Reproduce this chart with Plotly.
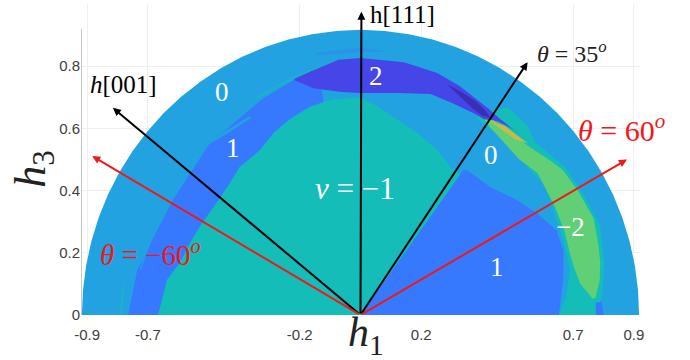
# plot.py - spin/chirality map on the half disk
import numpy as np
import plotly.graph_objects as go

SKY = "#22A2E0"
SKY2 = "#2A92EA"
BLUE = "#3679FF"
DARK = "#4646E8"
DEEP = "#3A2FB4"
TEAL = "#14BDB8"
TEAL2 = "#1CAFCE"
GREEN = "#60CF75"
GOLD = "#C4BC4A"
RED = "#F01818"

x_ticks = [-0.9, -0.7, -0.2, 0.2, 0.7, 0.9]
y_ticks = [0, 0.2, 0.4, 0.6, 0.8]

# region boundaries: angle from +h1 in degrees, radius in (h1, h3)
disc_angle = list(range(0, 181, 5))
disc_r = [0.917] * len(disc_angle)

left_angle = [180, 169, 158, 149, 132, 115, 106, 100]
left_r = [0.765, 0.749, 0.723, 0.72, 0.742, 0.766, 0.788, 0.80]

right_angle = [0, 10, 17.4, 23, 29.5, 35.7, 44, 53, 54]
right_r = [0.653, 0.678, 0.70, 0.70, 0.666, 0.634, 0.593, 0.583, 0.575]

halo_angle = [59, 54, 48, 44, 35, 28, 20, 12, 5, 0]
halo_out = [0.76, 0.825, 0.82, 0.80, 0.825, 0.83, 0.84, 0.82, 0.80, 0.775]
halo_in = [0.74, 0.735, 0.73, 0.725, 0.735, 0.72, 0.71, 0.705, 0.68, 0.653]

teal_angle = [180, 175, 170, 164, 158, 151, 141, 135, 130, 122, 116, 110, 104, 98, 90, 85, 80, 72, 65, 58, 54]
teal_r = [0.666, 0.655, 0.647, 0.617, 0.608, 0.60, 0.596, 0.605, 0.62, 0.625, 0.652, 0.672, 0.69, 0.70, 0.70,
          0.672, 0.645, 0.614, 0.59, 0.56, 0.56]

dark_angle = [106, 102, 95, 90, 80, 72, 66, 60, 57, 54, 50, 46]
dark_out = [0.79, 0.80, 0.824, 0.826, 0.825, 0.818, 0.805, 0.79, 0.785, 0.78, 0.78, 0.785]
dark_in = [0.785, 0.745, 0.72, 0.714, 0.725, 0.747, 0.745, 0.748, 0.75, 0.77, 0.78, 0.785]

deep_angle = [69, 65, 61, 58, 56]
deep_out = [0.795, 0.79, 0.785, 0.775, 0.765]
deep_in = [0.795, 0.775, 0.76, 0.755, 0.765]

green_angle = [57, 55, 44, 38, 35, 29, 22, 16, 12, 8, 4]
green_out = [0.75, 0.764, 0.776, 0.80, 0.813, 0.82, 0.828, 0.815, 0.807, 0.795, 0.775]
green_in = [0.75, 0.74, 0.723, 0.74, 0.735, 0.729, 0.724, 0.717, 0.72, 0.73, 0.765]

gold_angle = [56, 52, 48, 45]
gold_out = [0.755, 0.772, 0.775, 0.78]
gold_in = [0.755, 0.755, 0.76, 0.78]

# thin streaks along the band edges
streak_top_angle = [116, 107, 99.5]
streak_top_out = [0.782, 0.798, 0.812]
streak_top_in = [0.774, 0.786, 0.804]

streak_mid_angle = [133.8, 127, 119.7]
streak_mid_out = [0.750, 0.740, 0.737]
streak_mid_in = [0.746, 0.730, 0.729]

streak_low_angle = [168.7, 160.8, 155.5]
streak_low_out = [0.741, 0.737, 0.737]
streak_low_in = [0.737, 0.729, 0.733]

streak_edge_angle = [180, 175.3, 172.4]
streak_edge_out = [0.795, 0.791, 0.784]
streak_edge_in = [0.785, 0.783, 0.780]

streak_rim_angle = [100, 90, 85]
streak_rim_out = [0.856, 0.858, 0.854]
streak_rim_in = [0.848, 0.846, 0.850]

tail_angle = [3, 0]
tail_out = [0.795, 0.80]
tail_in = [0.775, 0.775]


def region(fig, angle, r_out, r_in, color):
    ang = np.radians(angle)
    x = np.array(r_out) * np.cos(ang)
    y = np.array(r_out) * np.sin(ang)
    if r_in is None:
        x = np.append(x, 0.0)
        y = np.append(y, 0.0)
    else:
        x = np.append(x, (np.array(r_in) * np.cos(ang))[::-1])
        y = np.append(y, (np.array(r_in) * np.sin(ang))[::-1])
    fig.add_scatter(x=x, y=y, mode="lines", fill="toself", fillcolor=color,
                    line=dict(width=0, color=color), hoverinfo="skip", showlegend=False)


fig = go.Figure()
region(fig, disc_angle, disc_r, None, SKY)
region(fig, streak_rim_angle, streak_rim_out, streak_rim_in, SKY2)
region(fig, streak_top_angle, streak_top_out, streak_top_in, TEAL2)
region(fig, streak_edge_angle, streak_edge_out, streak_edge_in, TEAL2)
region(fig, left_angle, left_r, None, BLUE)
region(fig, streak_mid_angle, streak_mid_out, streak_mid_in, SKY)
region(fig, streak_low_angle, streak_low_out, streak_low_in, SKY)
region(fig, right_angle, right_r, None, BLUE)
region(fig, halo_angle, halo_out, halo_in, TEAL)
region(fig, tail_angle, tail_out, tail_in, BLUE)
region(fig, teal_angle, teal_r, None, TEAL)
region(fig, dark_angle, dark_out, dark_in, DARK)
region(fig, deep_angle, deep_out, deep_in, DEEP)
region(fig, green_angle, green_out, green_in, GREEN)
region(fig, gold_angle, gold_out, gold_in, GOLD)

serif = "Liberation Serif"


def arrow(tip_x, tip_y, color):
    fig.add_annotation(x=tip_x, y=tip_y, ax=0, ay=0, xref="x", yref="y", axref="x", ayref="y",
                       text="", showarrow=True, arrowhead=2, arrowsize=0.8, arrowwidth=2,
                       arrowcolor=color)


def label(text, x, y, color="white", size=27, **kw):
    fig.add_annotation(x=x, y=y, text=text, showarrow=False,
                       font=dict(family=serif, size=size, color=color), **kw)


arrow(0.003, 0.975, "black")
arrow(-0.815, 0.666, "black")
arrow(0.55, 0.813, "black")
arrow(-0.883, 0.511, RED)
arrow(0.877, 0.50, RED)

label("0", -0.456, 0.717)
label("1", -0.42, 0.537)
label("2", 0.05, 0.768)
label("0", 0.43, 0.514)
label("<i>ν</i> = −1", -0.018, 0.408, size=31)
label("−2", 0.69, 0.283)
label("1", 0.45, 0.154)
label("<i>h</i>[001]", -0.78, 0.74, color="black", size=25)
label("h[111]", 0.137, 0.965, color="black", size=25)
label("<i>θ</i> = 35<sup><i>o</i></sup>", 0.696, 0.846, color="#222222", size=24)
label("<i>θ</i> = 60<sup><i>o</i></sup>", 0.86, 0.60, color=RED, size=30)
label("<i>θ</i> = −60<sup><i>o</i></sup>", -0.692, 0.20, color=RED, size=29)
label("<i>h</i><sub>1</sub>", 0.51, -0.155, color="#222222", size=42, xref="paper", yref="paper")
label("<i>h</i><sub>3</sub>", -0.137, 0.47, color="#222222", size=44, xref="paper", yref="paper", textangle=-90)

fig.add_shape(type="line", x0=-0.92, x1=-0.92, y0=0, y1=0.92, line=dict(color="#C8C8C8", width=2))

fig.update_layout(
    width=690, height=360, showlegend=False,
    margin=dict(l=81, r=50, t=4, b=45),
    plot_bgcolor="white", paper_bgcolor="white",
    font=dict(family="Liberation Sans", color="#404040"),
)
tick_font = dict(family="Liberation Sans", size=15, color="#404040")
fig.update_xaxes(range=[-0.92, 0.92], tickvals=x_ticks, ticktext=[str(t) for t in x_ticks], tickfont=tick_font,
                 showgrid=True, gridcolor="#EFEFEF", zeroline=False, showline=False,
                 ticks="outside", ticklen=6, tickcolor="white")
fig.update_yaxes(range=[0, 1.0], tickvals=y_ticks, ticktext=[str(t) for t in y_ticks], tickfont=tick_font,
                 showgrid=True, gridcolor="#EFEFEF", zeroline=False, showline=False, ticks="")

# the page's default body margin would push the figure off its place
fig.write_html("out.html", config={"displayModeBar": False},
               post_script="document.body.style.margin='0';")
